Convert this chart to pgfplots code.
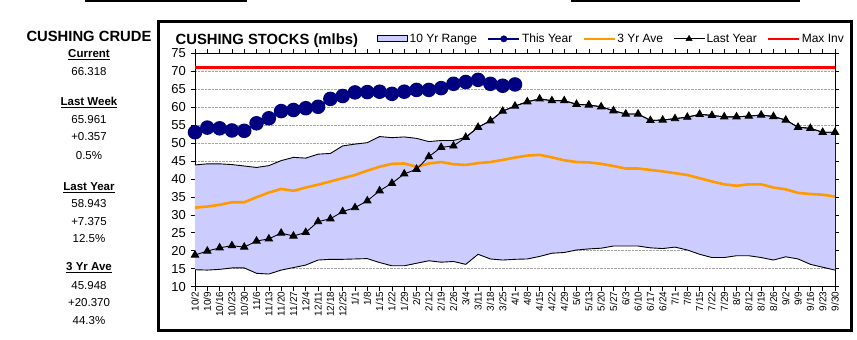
\documentclass[border=0pt]{standalone}
\usepackage{fontspec}
\setmainfont{Liberation Sans}
\usepackage{pgfplots}
\usepackage{pgfplotstable}
\pgfplotsset{compat=1.18}
\usepgfplotslibrary{fillbetween}
\definecolor{rangefill}{RGB}{204,204,255}
\definecolor{tynavy}{RGB}{0,0,128}
\definecolor{aveorange}{RGB}{255,153,0}

\pgfplotstableread{
i lo hi
0 14.7 43.9
1 14.6 44.2
2 14.8 44.2
3 15.2 44.0
4 15.2 43.6
5 13.7 43.2
6 13.5 43.7
7 14.6 45.1
8 15.3 46.0
9 16.0 45.8
10 17.4 46.9
11 17.6 47.1
12 17.6 49.2
13 17.7 49.7
14 17.8 50.1
15 16.7 51.8
16 15.8 51.5
17 15.8 51.7
18 16.5 51.3
19 17.2 50.4
20 16.8 50.7
21 17.0 50.7
22 16.2 51.6
23 19.0 54.4
24 17.7 56.2
25 17.4 58.9
26 17.6 60.3
27 17.7 61.5
28 18.4 62.3
29 19.3 61.8
30 19.5 61.8
31 20.2 60.8
32 20.5 60.6
33 20.7 60.1
34 21.3 59.0
35 21.3 58.1
36 21.3 58.1
37 20.8 56.3
38 20.6 56.4
39 21.0 56.8
40 20.2 57.2
41 19.0 58.0
42 18.1 57.7
43 18.1 57.3
44 18.6 57.3
45 18.6 57.5
46 18.1 57.8
47 17.4 57.4
48 18.3 56.4
49 17.7 54.4
50 16.2 54.1
51 15.4 53.0
52 14.6 53.0
}\rangetab

\pgfplotstableread{
i v
0 53.0
1 54.3
2 54.1
3 53.5
4 53.4
5 55.5
6 56.9
7 58.9
8 59.2
9 59.7
10 60.1
11 62.3
12 63.1
13 64.1
14 64.2
15 64.3
16 63.7
17 64.3
18 64.8
19 64.8
20 65.3
21 66.5
22 67.0
23 67.6
24 66.5
25 65.961
26 66.318
}\thisyear

\pgfplotstableread{
i v
0 18.8
1 19.9
2 20.8
3 21.4
4 21.0
5 22.7
6 23.3
7 24.9
8 24.1
9 25.1
10 28.1
11 28.9
12 30.9
13 32.0
14 33.9
15 36.7
16 38.8
17 41.4
18 42.7
19 46.2
20 48.8
21 49.2
22 51.6
23 54.4
24 56.2
25 58.9
26 60.3
27 61.5
28 62.3
29 61.8
30 61.8
31 60.8
32 60.6
33 60.1
34 59.0
35 58.1
36 58.1
37 56.3
38 56.4
39 56.8
40 57.2
41 58.0
42 57.7
43 57.3
44 57.3
45 57.5
46 57.8
47 57.4
48 56.4
49 54.4
50 54.1
51 53.0
52 53.0
}\lastyear

\pgfplotstableread{
i v
0 32.0
1 32.3
2 32.8
3 33.5
4 33.5
5 34.9
6 36.2
7 37.2
8 36.7
9 37.6
10 38.4
11 39.3
12 40.2
13 41.1
14 42.3
15 43.4
16 44.2
17 44.3
18 43.4
19 44.3
20 44.7
21 44.1
22 43.9
23 44.4
24 44.7
25 45.3
26 45.948
27 46.5
28 46.7
29 46.0
30 45.2
31 44.7
32 44.6
33 44.2
34 43.6
35 42.9
36 42.9
37 42.5
38 42.1
39 41.6
40 41.1
41 40.2
42 39.3
43 38.5
44 38.1
45 38.5
46 38.5
47 37.6
48 37.1
49 36.1
50 35.8
51 35.6
52 35.1
}\threeyr

\begin{document}
\begin{tikzpicture}
\begin{axis}[
  scale only axis, width=640pt, height=233.3pt,
  xmin=0, xmax=52, ymin=10, ymax=75,
  clip=false,
  ytick={10,15,...,75},
  xtick={0,...,52},
  xticklabels={10/2,10/9,10/16,10/23,10/30,11/6,11/13,11/20,11/27,12/4,12/11,12/18,12/25,1/1,1/8,1/15,1/22,1/29,2/5,2/12,2/19,2/26,3/4,3/11,3/18,3/25,4/1,4/8,4/15,4/22,4/29,5/6,5/13,5/20,5/27,6/3,6/10,6/17,6/24,7/1,7/8,7/15,7/22,7/29,8/5,8/12,8/19,8/26,9/2,9/9,9/16,9/23,9/30},
  x tick label style={rotate=90, anchor=east, font=\fontsize{10}{10}\selectfont, inner sep=1pt},
  y tick label style={font=\fontsize{13}{13}\selectfont, inner sep=1pt, xshift=-4pt},
  /pgf/number format/assume math mode=true,
  tick align=outside, major tick length=4pt,
  tick style={black, line width=0.6pt},
  axis line style={black, line width=0.8pt},
  ymajorgrids, grid style={gray!70, densely dotted, line width=0.8pt},
  legend columns=-1,
  legend style={draw=none, fill=none, at={(0.2845,1.062)}, anchor=west,
    font=\fontsize{12}{13}\selectfont, inner sep=0pt,
    nodes={inner sep=1.5pt},
    /tikz/every even column/.append style={column sep=8.5pt}},
]
\coordinate (axO) at (rel axis cs:0,0);
\addplot[name path=hi, draw=none, forget plot] table[x=i,y=hi]{\rangetab};
\addplot[name path=lo, draw=none, forget plot] table[x=i,y=lo]{\rangetab};
\addplot[fill=rangefill, draw=none, forget plot] fill between[of=hi and lo];
\addplot[black, line width=0.9pt, forget plot] table[x=i,y=hi]{\rangetab};
\addplot[black, line width=0.9pt, forget plot] table[x=i,y=lo]{\rangetab};
\addplot[aveorange, line width=2.6pt, forget plot] table[x=i,y=v]{\threeyr};
\addplot[black, line width=0.9pt, mark=triangle*, mark size=4.2pt, forget plot] table[x=i,y=v]{\lastyear};
\addplot[tynavy, line width=2.5pt, mark=*, mark size=6pt, forget plot] table[x=i,y=v]{\thisyear};
\addplot[red, line width=2.6pt, forget plot] coordinates {(0,71) (52,71)};

\addlegendimage{legend image code/.code={\draw[fill=rangefill, draw=black, line width=0.9pt] (0pt,-3pt) rectangle (30pt,3pt);}}
\addlegendentry{10 Yr Range}
\addlegendimage{legend image code/.code={\draw[tynavy, line width=2.5pt] (0pt,0pt) -- (31pt,0pt); \fill[tynavy] (15.5pt,0pt) circle (3.2pt);}}
\addlegendentry{This Year}
\addlegendimage{legend image code/.code={\draw[aveorange, line width=2.5pt] (0pt,0pt) -- (31pt,0pt);}}
\addlegendentry{3 Yr Ave}
\addlegendimage{legend image code/.code={\draw[black, line width=0.9pt] (0pt,0pt) -- (31pt,0pt); \fill[black] (15.5pt,0pt) ++(90:3.6pt) -- ++(-120:6.2pt) -- ++(0:6.2pt) -- cycle;}}
\addlegendentry{Last Year}
\addlegendimage{legend image code/.code={\draw[red, line width=2.5pt] (0pt,0pt) -- (31pt,0pt);}}
\addlegendentry{Max Inv}
\end{axis}

\begin{scope}[shift={(axO)}, xshift=-195pt, yshift=-53.4pt, x=1pt, y=1pt]
% top fragments
\draw[line width=1.5pt] (85,339.2) -- (247,339.2);
\draw[line width=1.5pt] (571,339.2) -- (800,339.2);
% frame
\draw[line width=3pt] (158.5,318.5) rectangle (851,9.5);

% left panel
\begin{scope}[every node/.style={anchor=base, inner sep=0pt}]
\node[font=\bfseries\fontsize{14.8}{16}\selectfont] at (89,340-41.5) {CUSHING CRUDE};
\node[font=\bfseries\fontsize{11.5}{13}\selectfont] at (89,340-57.5) {\underline{Current}};
\node[font=\fontsize{11.5}{13}\selectfont] at (89,340-76) {66.318};
\node[font=\bfseries\fontsize{11.5}{13}\selectfont] at (89,340-106) {\underline{Last Week}};
\node[font=\fontsize{11.5}{13}\selectfont] at (89,340-123.3) {65.961};
\node[font=\fontsize{11.5}{13}\selectfont] at (89,340-141) {+0.357};
\node[font=\fontsize{11.5}{13}\selectfont] at (89,340-159.3) {0.5\%};
\node[font=\bfseries\fontsize{11.5}{13}\selectfont] at (89,340-190.3) {\underline{Last Year}};
\node[font=\fontsize{11.5}{13}\selectfont] at (89,340-207.3) {58.943};
\node[font=\fontsize{11.5}{13}\selectfont] at (89,340-225.3) {+7.375};
\node[font=\fontsize{11.5}{13}\selectfont] at (89,340-242.3) {12.5\%};
\node[font=\bfseries\fontsize{11.5}{13}\selectfont] at (89,340-271) {\underline{3 Yr Ave}};
\node[font=\fontsize{11.5}{13}\selectfont] at (89,340-289.3) {45.948};
\node[font=\fontsize{11.5}{13}\selectfont] at (89,340-307) {+20.370};
\node[font=\fontsize{11.5}{13}\selectfont] at (89,340-325) {44.3\%};
\end{scope}

% title
\node[anchor=base west, inner sep=0pt, font=\bfseries\fontsize{14.8}{16}\selectfont] at (175.5,340-44.5) {CUSHING STOCKS (mlbs)};

\pgfresetboundingbox
\useasboundingbox (0,0) rectangle (857,340);
\end{scope}
\end{tikzpicture}
\end{document}
